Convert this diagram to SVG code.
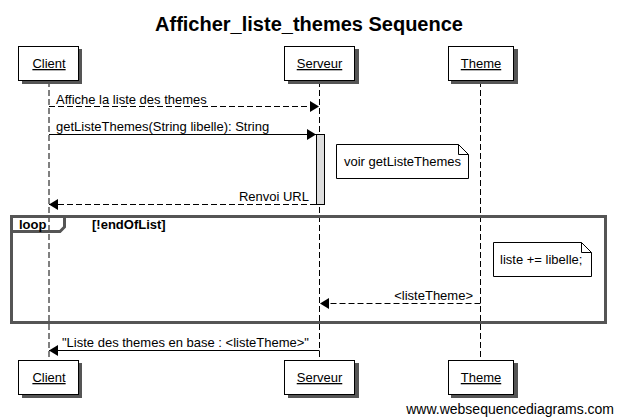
<svg xmlns="http://www.w3.org/2000/svg" width="617" height="417" viewBox="0 0 617 417">
<defs>
<style>
text{font-family:"Liberation Sans",Arial,sans-serif;font-size:13px;fill:#000}
.title{font-size:20px;font-weight:bold}
.actor{fill:#fff;stroke:#000;stroke-width:1}
.shadow{fill:#555}
.aname{text-decoration:underline;text-anchor:middle}
.life{stroke:#000;stroke-width:1;stroke-dasharray:6,3;fill:none}
.msg{stroke:#000;stroke-width:1;fill:none}
.dash{stroke-dasharray:6,3}
.note{fill:#fff;stroke:#000;stroke-width:1}
.frame{fill:none;stroke:#555;stroke-width:3}
.bold{font-weight:bold}
.end{text-anchor:end}
</style>
<marker id="arr" markerWidth="9" markerHeight="11" refX="9" refY="5.5" orient="auto" markerUnits="userSpaceOnUse">
<path d="M0,0 L9,5.5 L0,11 z" fill="#000"/>
</marker>
</defs>
<rect width="617" height="417" fill="#fff"/>
<text class="title" x="309" y="31" text-anchor="middle">Afficher_liste_themes Sequence</text>

<g id="lifelines">
<line class="life" x1="49" y1="81" x2="49" y2="360"/>
<line class="life" x1="319.5" y1="81" x2="319.5" y2="360"/>
<line class="life" x1="480.5" y1="81" x2="480.5" y2="360"/>
</g>

<g id="frame-loop">
<rect class="frame" x="11.5" y="216.5" width="594" height="106"/>
<path d="M11.5,231.5 H60 L64.5,227 V216.5" fill="none" stroke="#555" stroke-width="3"/>
<text class="bold" x="19" y="229">loop</text>
<text class="bold" x="92" y="229">[!endOfList]</text>
</g>

<g id="activation">
<rect x="316.5" y="134.5" width="8" height="70" fill="#ddd" stroke="#000"/>
</g>

<g id="client-top">
<rect class="shadow" x="22" y="49" width="60" height="35"/>
<rect class="actor" x="18.5" y="46.5" width="60" height="34"/>
<text class="aname" x="49" y="68">Client</text>
</g>
<g id="serveur-top">
<rect class="shadow" x="288" y="49" width="71" height="35"/>
<rect class="actor" x="284.5" y="46.5" width="70" height="34"/>
<text class="aname" x="319.5" y="68">Serveur</text>
</g>
<g id="theme-top">
<rect class="shadow" x="451" y="49" width="67" height="35"/>
<rect class="actor" x="448.5" y="46.5" width="65" height="34"/>
<text class="aname" x="481" y="68">Theme</text>
</g>

<g id="client-bottom">
<rect class="shadow" x="22" y="363" width="60" height="35"/>
<rect class="actor" x="18.5" y="360.5" width="60" height="34"/>
<text class="aname" x="49" y="382">Client</text>
</g>
<g id="serveur-bottom">
<rect class="shadow" x="288" y="363" width="71" height="35"/>
<rect class="actor" x="284.5" y="360.5" width="70" height="34"/>
<text class="aname" x="319.5" y="382">Serveur</text>
</g>
<g id="theme-bottom">
<rect class="shadow" x="451" y="363" width="67" height="35"/>
<rect class="actor" x="448.5" y="360.5" width="65" height="34"/>
<text class="aname" x="481" y="382">Theme</text>
</g>

<g id="note1">
<path class="note" d="M336.5,144.5 H458.5 L468.5,154.5 V178.5 H336.5 Z"/>
<path d="M458.5,144.5 V154.5 H468.5" fill="none" stroke="#000"/>
<text x="344" y="166">voir getListeThemes</text>
</g>
<g id="note2">
<path class="note" d="M493.5,242.5 H581.5 L591.5,252.5 V276.5 H493.5 Z"/>
<path d="M581.5,242.5 V252.5 H591.5" fill="none" stroke="#000"/>
<text x="500" y="264">liste += libelle;</text>
</g>

<g id="connectors">
<line class="msg dash" x1="49" y1="106.5" x2="319" y2="106.5" marker-end="url(#arr)"/>
<text x="56" y="104">Affiche la liste des themes</text>
<line class="msg" x1="49" y1="134.5" x2="316" y2="134.5" marker-end="url(#arr)"/>
<text x="56" y="131">getListeThemes(String libelle): String</text>
<line class="msg dash" x1="316" y1="204.5" x2="49" y2="204.5" marker-end="url(#arr)"/>
<text class="end" x="309" y="201">Renvoi URL</text>
<line class="msg dash" x1="480.5" y1="303.5" x2="320" y2="303.5" marker-end="url(#arr)"/>
<text class="end" x="473" y="300">&lt;listeTheme&gt;</text>
<line class="msg" x1="319.5" y1="350.5" x2="49" y2="350.5" marker-end="url(#arr)"/>
<text x="62" y="347">"Liste des themes en base : &lt;listeTheme&gt;"</text>
</g>

<text x="614" y="414" text-anchor="end" style="font-size:14px">www.websequencediagrams.com</text>
</svg>
